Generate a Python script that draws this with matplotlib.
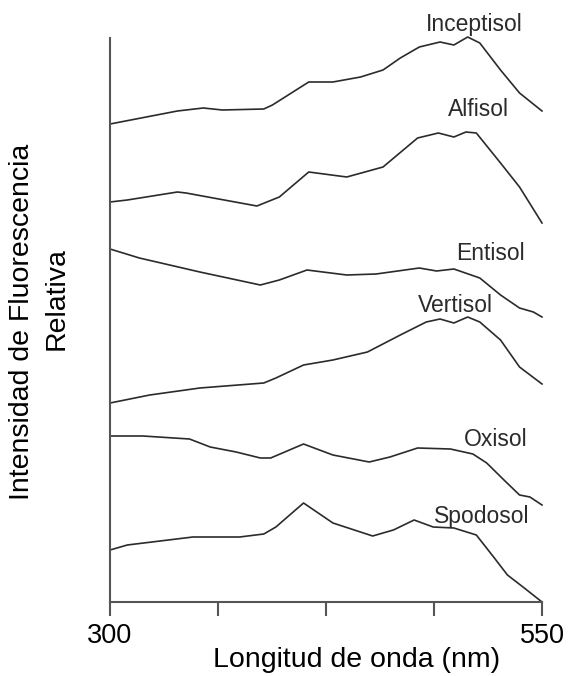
import matplotlib
matplotlib.use("Agg")
import matplotlib.pyplot as plt

plt.rcParams['font.family'] = ['Liberation Sans', 'DejaVu Sans']

inceptisol_x = [300, 339, 354, 365, 389, 394, 415, 429, 445, 458, 468, 479, 491, 499, 507, 514, 526, 537, 550]
inceptisol_y = [478, 491, 494, 492, 493, 497, 520, 520, 525, 532, 544, 555, 560, 557, 565, 559, 532, 509, 491]

alfisol_x = [300, 310, 339, 344, 385, 398, 415, 437, 458, 478, 490, 499, 506, 512, 526, 537, 550]
alfisol_y = [400, 402, 410, 409, 396, 405, 430, 425, 435, 464, 469, 465, 470, 469, 439, 415, 379]

entisol_x = [300, 317, 352, 387, 398, 414, 437, 454, 479, 489, 499, 514, 526, 537, 545, 550]
entisol_y = [353, 344, 330, 317, 322, 332, 327, 328, 334, 331, 333, 324, 307, 294, 290, 285]

vertisol_x = [300, 323, 352, 389, 396, 412, 429, 449, 468, 483, 491, 499, 507, 514, 526, 537, 550]
vertisol_y = [199, 207, 214, 219, 224, 237, 242, 250, 267, 280, 283, 279, 285, 280, 262, 235, 218]

oxisol_x = [300, 319, 346, 358, 373, 387, 393, 412, 429, 450, 462, 478, 497, 510, 518, 528, 537, 543, 550]
oxisol_y = [166, 166, 163, 155, 150, 144, 144, 158, 147, 140, 145, 154, 153, 148, 139, 122, 107, 105, 97]

spodosol_x = [300, 310, 348, 375, 389, 396, 412, 429, 452, 464, 476, 487, 499, 512, 522, 530, 539, 550]
spodosol_y = [52, 57, 65, 65, 68, 75, 99, 79, 66, 72, 82, 75, 74, 67, 45, 27, 15, 0]

series = [
    ("Inceptisol", inceptisol_x, inceptisol_y, 511, 578),
    ("Alfisol", alfisol_x, alfisol_y, 513, 492),
    ("Entisol", entisol_x, entisol_y, 520, 348),
    ("Vertisol", vertisol_x, vertisol_y, 500, 296),
    ("Oxisol", oxisol_x, oxisol_y, 523, 162),
    ("Spodosol", spodosol_x, spodosol_y, 515, 86),
]

tick_positions = [300, 362.5, 425, 487.5, 550]
tick_labels = ["300", "", "", "", "550"]

fig = plt.figure(figsize=(5.71, 6.76), dpi=100)
ax = fig.add_axes([110/571, 1 - 602/676, 432/571, 564/676])

for name, xs, ys, lx, ly in series:
    ax.plot(xs, ys, color="#2b2b2b", lw=1.2, clip_on=False)
    ax.text(lx, ly, name, fontsize=16.5, ha="center", va="center", color="#2b2b2b")

ax.set_xlim(300, 550)
ax.set_ylim(0, 564)
ax.set_xticks(tick_positions)
ax.set_xticklabels(tick_labels, fontsize=19.5)
ax.tick_params(axis="x", direction="out", length=10, width=1.5, color="#555555", pad=5)
ax.set_yticks([])
for s in ["top", "right"]:
    ax.spines[s].set_visible(False)
for s in ["left", "bottom"]:
    ax.spines[s].set_color("#555555")
    ax.spines[s].set_linewidth(1.5)

fig.text(357/571, 1 - 660/676, "Longitud de onda (nm)", fontsize=20.5, ha="center", va="center")
fig.text(22/571, 1 - 322/676, "Intensidad de Fluorescencia", fontsize=20.5, rotation=90, ha="center", va="center")
fig.text(57/571, 1 - 299/676, "Relativa", fontsize=20.5, rotation=90, ha="center", va="center")

fig.savefig("out.png", dpi=100)
